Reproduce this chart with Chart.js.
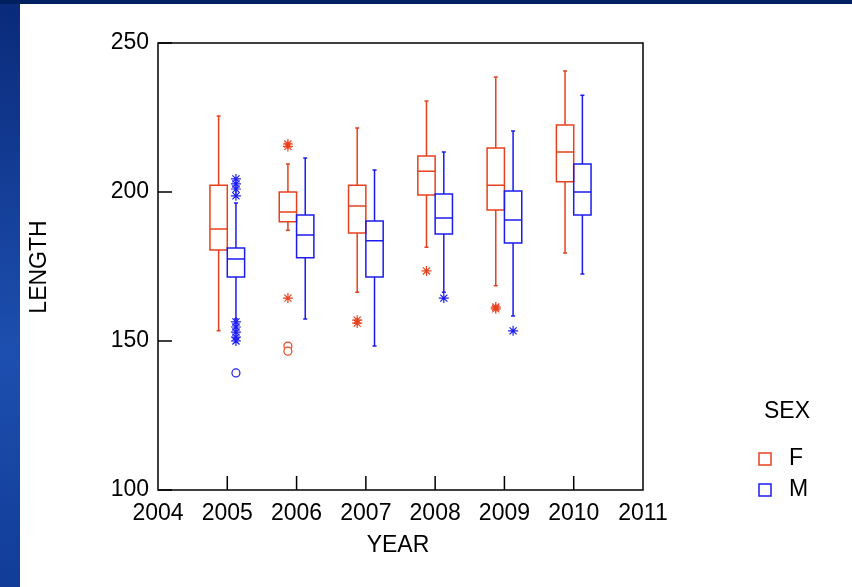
<!DOCTYPE html>
<html>
<head>
<meta charset="utf-8">
<script src="https://cdn.jsdelivr.net/npm/chart.js@4.4.1/dist/chart.umd.min.js"></script>
<style>
  body { margin: 0; width: 852px; height: 587px; overflow: hidden; background: #fff; position: relative; }
  #side { position: absolute; left: 0; top: 0; width: 20px; height: 587px; background: linear-gradient(to bottom, #0a2a7a, #1d4fb0 60%, #123c98); }
  #topbar { position: absolute; left: 0; top: 0; width: 852px; height: 4px; background: #002060; }
  #c { position: absolute; left: 0; top: 0; }
</style>
</head>
<body>
<div id="side"></div><div id="topbar"></div>
<canvas id="c" width="852" height="587"></canvas>
<script>
const years = [2005, 2006, 2007, 2008, 2009, 2010];
// [lowWhisker, q1, median, q3, highWhisker]
const femaleBox = [
  [153.4, 180.5, 187.6, 202.3, 225.5],
  [187.2, 190.0, 193.3, 200.0, 209.4],
  [166.4, 186.2, 195.3, 202.3, 221.5],
  [181.5, 199.0, 207.0, 212.1, 230.5],
  [168.5, 194.0, 202.3, 214.8, 238.6],
  [179.5, 203.4, 213.4, 222.5, 240.6]
];
const maleBox = [
  [157.4, 171.5, 177.5, 181.2, 196.3],
  [157.4, 177.9, 185.6, 192.3, 211.4],
  [148.3, 171.5, 183.6, 190.3, 207.4],
  [166.4, 185.9, 191.3, 199.3, 213.4],
  [158.4, 182.9, 190.6, 200.3, 220.5],
  [172.5, 192.3, 200.0, 209.4, 232.5]
];
// far outliers (asterisk) and extreme outliers (circle)
const femaleStars = [[2006, 216.1], [2006, 215.3], [2006, 164.4], [2007, 157.0], [2007, 156.0], [2008, 173.5], [2009, 161.4], [2009, 160.8]];
const femaleCircles = [[2006, 148.3], [2006, 146.6]];
const maleStars = [[2005, 204.4], [2005, 202.7], [2005, 201.0], [2005, 198.7], [2005, 156.4], [2005, 154.7], [2005, 153.0], [2005, 151.3], [2005, 150.0], [2008, 164.4], [2009, 153.4]];
const maleCircles = [[2005, 139.3]];
const yTicks = [100, 150, 200, 250];

const RED = '#e8401c', BLUE = '#1c1cf0';
const OFF = 0.125, HALF = 0.125;
const FONT = '"Liberation Sans", Arial';

function pts(list, off) { return list.map(p => ({x: p[0] + off, y: p[1]})); }

const boxPlugin = {
  id: 'boxes',
  afterDatasetsDraw(chart) {
    const ctx = chart.ctx, xs = chart.scales.x, ys = chart.scales.y;
    const a = chart.chartArea;
    ctx.save();
    // frame
    ctx.strokeStyle = '#000'; ctx.lineWidth = 1.5;
    ctx.strokeRect(a.left, a.top, a.right - a.left, a.bottom - a.top);
    // inward ticks
    ctx.beginPath();
    yTicks.forEach(v => { const y = ys.getPixelForValue(v); ctx.moveTo(a.left, y); ctx.lineTo(a.left + 14, y); });
    for (let v = 2005; v <= 2010; v++) { const x = xs.getPixelForValue(v); ctx.moveTo(x, a.bottom); ctx.lineTo(x, a.bottom - 14); }
    ctx.stroke();
    // boxes
    [[femaleBox, -OFF, RED], [maleBox, OFF, BLUE]].forEach(([data, off, col]) => {
      ctx.strokeStyle = col; ctx.lineWidth = 1.5;
      data.forEach((b, i) => {
        const xc = xs.getPixelForValue(years[i] + off);
        const xl = xs.getPixelForValue(years[i] + off - HALF);
        const xr = xs.getPixelForValue(years[i] + off + HALF);
        const [lo, q1, med, q3, hi] = b.map(v => ys.getPixelForValue(v));
        ctx.beginPath();
        ctx.rect(xl, q3, xr - xl, q1 - q3);
        ctx.moveTo(xl, med); ctx.lineTo(xr, med);
        ctx.moveTo(xc, q3); ctx.lineTo(xc, hi);
        ctx.moveTo(xc, q1); ctx.lineTo(xc, lo);
        ctx.moveTo(xc - 2, hi); ctx.lineTo(xc + 2, hi);
        ctx.moveTo(xc - 2, lo); ctx.lineTo(xc + 2, lo);
        ctx.stroke();
      });
    });
    // axis titles
    ctx.fillStyle = '#000'; ctx.font = '23px ' + FONT;
    ctx.textBaseline = 'middle'; ctx.textAlign = 'center';
    ctx.fillText('YEAR', 398, 546);
    ctx.save(); ctx.translate(40, 267); ctx.rotate(-Math.PI / 2);
    ctx.fillText('LENGTH', 0, 0); ctx.restore();
    // legend
    ctx.textAlign = 'left';
    ctx.fillText('SEX', 764, 412);
    [['F', RED, 459], ['M', BLUE, 490]].forEach(([t, c, y]) => {
      ctx.strokeStyle = c; ctx.lineWidth = 1.5;
      ctx.strokeRect(759, y - 6, 12, 12);
      ctx.fillStyle = '#000'; ctx.fillText(t, 789, y);
    });
    ctx.restore();
  }
};

function sc(list, off, col, style) {
  return {
    data: pts(list, off), pointStyle: style, pointRadius: style === 'circle' ? 4 : 5,
    borderColor: col, backgroundColor: style === 'circle' ? '#fff' : col, pointBorderWidth: 1.2
  };
}

new Chart(document.getElementById('c'), {
  type: 'scatter',
  data: {
    datasets: [
      sc(femaleStars, -OFF, RED, 'star'), sc(femaleCircles, -OFF, RED, 'circle'),
      sc(maleStars, OFF, BLUE, 'star'), sc(maleCircles, OFF, BLUE, 'circle')
    ]
  },
  options: {
    responsive: false, animation: false, devicePixelRatio: 1,
    layout: { padding: { top: 43, right: 209, left: 0, bottom: 0 } },
    plugins: { legend: { display: false }, tooltip: { enabled: false } },
    scales: {
      x: {
        type: 'linear', min: 2004, max: 2011,
        grid: { display: false, drawTicks: false }, border: { display: false },
        ticks: { stepSize: 1, color: '#000', padding: 10, font: { size: 23, family: FONT }, callback: v => String(v), maxRotation: 0, autoSkip: false },
        afterFit: s => { s.height = 97; }
      },
      y: {
        min: 100, max: 250,
        grid: { display: false, drawTicks: false }, border: { display: false },
        ticks: { stepSize: 50, color: '#000', padding: 9, font: { size: 23, family: FONT } },
        afterFit: s => { s.width = 158; }
      }
    }
  },
  plugins: [boxPlugin]
});
</script>
</body>
</html>
